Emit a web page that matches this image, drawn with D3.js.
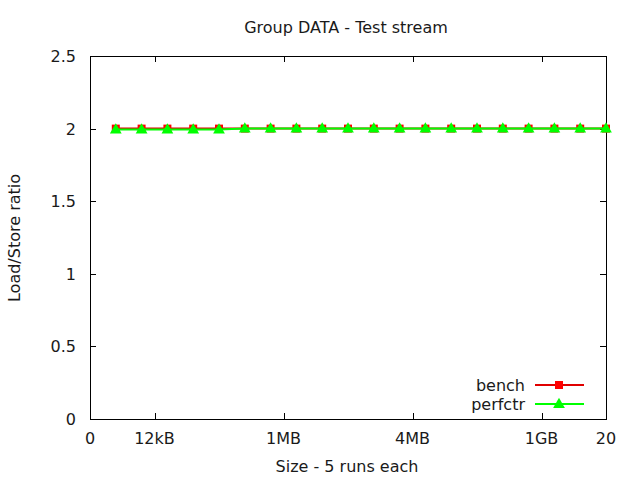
<!DOCTYPE html>
<html>
<head>
<meta charset="utf-8">
<script src="https://cdn.jsdelivr.net/npm/d3@7"></script>
<style>
  html, body { margin: 0; padding: 0; background: #fff; }
  text { font-family: "DejaVu Sans", sans-serif; fill: #1a1a1a; }
</style>
</head>
<body>
<svg id="chart" width="640" height="480"></svg>
<script>
// ---- data ----
const xValues = [1,2,3,4,5,6,7,8,9,10,11,12,13,14,15,16,17,18,19,20];
const benchValues = [2,2,2,2,2,2,2,2,2,2,2,2,2,2,2,2,2,2,2,2];
const perfctrValues = [1.993,1.993,1.993,1.993,1.993,2,2,2,2,2,2,2,2,2,2,2,2,2,2,2];
const xTickValues = [0, 2.5, 7.5, 12.5, 17.5, 20];
const xTickLabels = ["0", "12kB", "1MB", "4MB", "1GB", "20"];
const yTickValues = [0, 0.5, 1, 1.5, 2, 2.5];
const seriesNames = ["bench", "perfctr"];

const svg = d3.select("#chart");
const W = 640, H = 480;
svg.append("rect").attr("width", W).attr("height", H).attr("fill", "#fff");

const mLeft = 90, mRight = 606, mTop = 56, mBottom = 419;
const x = d3.scaleLinear().domain([0, 20]).range([mLeft, mRight]);
const y = d3.scaleLinear().domain([0, 2.5]).range([mBottom, mTop]);

const fs = 16;
const tickLen = 6;

// border
svg.append("rect").attr("x", mLeft + 0.5).attr("y", mTop + 0.5)
  .attr("width", mRight - mLeft).attr("height", mBottom - mTop)
  .attr("fill", "none").attr("stroke", "#000").attr("stroke-width", 1);

// x ticks (inward, mirrored top)
const xTicks = svg.append("g");
xTickValues.forEach((v, i) => {
  const px = Math.round(x(v)) + 0.5;
  xTicks.append("line").attr("x1", px).attr("x2", px)
    .attr("y1", mBottom).attr("y2", mBottom - tickLen).attr("stroke", "#000");
  xTicks.append("line").attr("x1", px).attr("x2", px)
    .attr("y1", mTop).attr("y2", mTop + tickLen).attr("stroke", "#000");
  xTicks.append("text").attr("x", x(v)).attr("y", 444)
    .attr("text-anchor", "middle").attr("font-size", fs).text(xTickLabels[i]);
});

// y ticks (inward, mirrored right)
const yTicks = svg.append("g");
yTickValues.forEach(v => {
  const py = Math.round(y(v)) + 0.5;
  yTicks.append("line").attr("x1", mLeft).attr("x2", mLeft + tickLen)
    .attr("y1", py).attr("y2", py).attr("stroke", "#000");
  yTicks.append("line").attr("x1", mRight).attr("x2", mRight - tickLen)
    .attr("y1", py).attr("y2", py).attr("stroke", "#000");
  yTicks.append("text").attr("x", 76).attr("y", y(v) + 6)
    .attr("text-anchor", "end").attr("font-size", fs).text(d3.format("")(v));
});

// titles
svg.append("text").attr("x", 346).attr("y", 33).attr("text-anchor", "middle")
  .attr("font-size", fs).text("Group DATA - Test stream");
svg.append("text").attr("x", 347).attr("y", 472).attr("text-anchor", "middle")
  .attr("font-size", fs).text("Size - 5 runs each");
svg.append("text").attr("transform", "translate(20,238) rotate(-90)")
  .attr("text-anchor", "middle").attr("font-size", fs).text("Load/Store ratio");

// series
const benchColor = "#e00000", benchMarker = "#ff0000";
const perfColor = "#00ff00";
const line = d3.line().x(d => x(d[0])).y(d => y(d[1]));
const benchData = xValues.map((v, i) => [v, benchValues[i]]);
const perfData = xValues.map((v, i) => [v, perfctrValues[i]]);

const plot = svg.append("g");
plot.append("path").datum(benchData).attr("d", line)
  .attr("fill", "none").attr("stroke", benchColor).attr("stroke-width", 2);
plot.selectAll("rect.bm").data(benchData).enter().append("rect")
  .attr("class", "bm").attr("x", d => x(d[0]) - 4).attr("y", d => y(d[1]) - 4)
  .attr("width", 8).attr("height", 8).attr("fill", benchMarker);

const tri = d3.symbol().type(d3.symbolTriangle).size(60);
plot.append("path").datum(perfData).attr("d", line)
  .attr("fill", "none").attr("stroke", perfColor).attr("stroke-width", 2);
plot.selectAll("path.pm").data(perfData).enter().append("path")
  .attr("class", "pm").attr("d", tri)
  .attr("transform", d => `translate(${x(d[0])},${y(d[1]) + 0.5})`)
  .attr("fill", perfColor);

// legend
const legend = svg.append("g");
const legY = [385, 404];
const colors = [benchColor, perfColor];
seriesNames.forEach((name, i) => {
  legend.append("text").attr("x", 525).attr("y", legY[i] + 6)
    .attr("text-anchor", "end").attr("font-size", fs).text(name);
  legend.append("line").attr("x1", 535).attr("x2", 584)
    .attr("y1", legY[i]).attr("y2", legY[i])
    .attr("stroke", colors[i]).attr("stroke-width", 2);
  if (i === 0) {
    legend.append("rect").attr("x", 559 - 4).attr("y", legY[i] - 4)
      .attr("width", 8).attr("height", 8).attr("fill", benchMarker);
  } else {
    legend.append("path").attr("d", tri)
      .attr("transform", `translate(559,${legY[i] + 0.5})`).attr("fill", perfColor);
  }
});
</script>
</body>
</html>
